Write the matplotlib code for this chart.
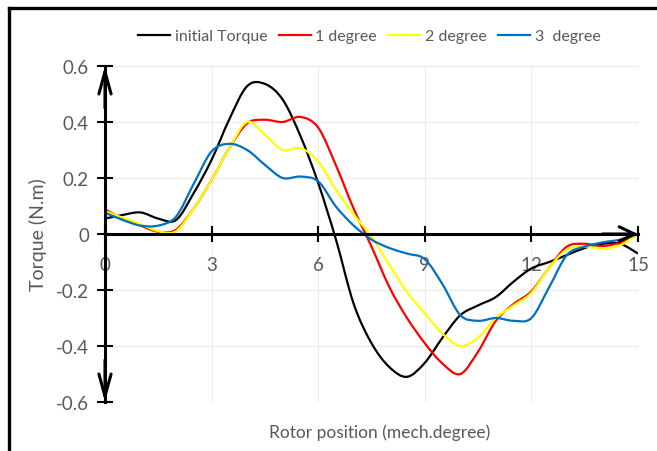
import numpy as np
import matplotlib
matplotlib.use("Agg")
import matplotlib.pyplot as plt
from matplotlib.path import Path
from matplotlib.patches import PathPatch
from matplotlib.lines import Line2D

plt.rcParams['font.family'] = ['Lato', 'DejaVu Sans']

# rotor position (mech. degree)
pos = np.arange(0, 15.01, 0.5)

torque_initial = [0.055, 0.068, 0.077, 0.055, 0.05, 0.147, 0.265, 0.41, 0.528, 0.536,
                  0.48, 0.35, 0.182, -0.02, -0.25, -0.39, -0.475, -0.51, -0.46, -0.37,
                  -0.29, -0.255, -0.225, -0.17, -0.123, -0.10, -0.075, -0.05, -0.035, -0.035,
                  -0.07]
torque_1deg = [0.088, 0.055, 0.03, 0.008, 0.015, 0.092, 0.193, 0.307, 0.395, 0.408,
               0.40, 0.418, 0.38, 0.245, 0.09, -0.045, -0.189, -0.30, -0.39, -0.463,
               -0.50, -0.42, -0.31, -0.25, -0.205, -0.12, -0.045, -0.035, -0.043, -0.03,
               0.0]
torque_2deg = [0.082, 0.058, 0.035, 0.01, 0.01, 0.092, 0.193, 0.307, 0.40, 0.354,
               0.30, 0.307, 0.259, 0.158, 0.07, -0.01, -0.11, -0.207, -0.284, -0.356,
               -0.40, -0.37, -0.30, -0.255, -0.21, -0.12, -0.055, -0.045, -0.052, -0.04,
               0.0]
torque_3deg = [0.076, 0.05, 0.03, 0.03, 0.062, 0.18, 0.295, 0.322, 0.30, 0.247,
               0.20, 0.205, 0.188, 0.098, 0.03, -0.02, -0.05, -0.07, -0.09, -0.18,
               -0.29, -0.31, -0.30, -0.31, -0.30, -0.19, -0.075, -0.045, -0.03, -0.02,
               0.0]

series = [
    ('initial Torque', torque_initial, 'black'),
    ('1 degree', torque_1deg, '#ff0000'),
    ('2 degree', torque_2deg, '#ffff00'),
    ('3  degree', torque_3deg, '#0070c0'),
]

x_ticks = [0, 3, 6, 9, 12, 15]
y_ticks = [-0.6, -0.4, -0.2, 0, 0.2, 0.4, 0.6]
y_ticklabels = ['-0.6', '-0.4', '-0.2', '0', '0.2', '0.4', '0.6']

gray = '#595959'


def smooth_path(x, y):
    # Excel-like smoothed line: bezier segments through the points
    p = np.column_stack([x, y])
    n = len(p)
    verts = [p[0]]
    codes = [Path.MOVETO]
    for i in range(n - 1):
        p0 = p[i - 1] if i > 0 else p[i]
        p1 = p[i]
        p2 = p[i + 1]
        p3 = p[i + 2] if i + 2 < n else p[i + 1]
        c1 = p1 + (p2 - p0) / 6.0
        c2 = p2 - (p3 - p1) / 6.0
        verts += [c1, c2, p2]
        codes += [Path.CURVE4] * 3
    return Path(verts, codes)


fig = plt.figure(figsize=(6.57, 4.52), dpi=100)
ax = fig.add_axes([0.1598, 0.1084, 0.9711 - 0.1598, 0.8518 - 0.1084])

for name, vals, col in series:
    ax.add_patch(PathPatch(smooth_path(pos, np.array(vals)), fill=False,
                           edgecolor=col, lw=1.6, zorder=3))

ax.set_xlim(0, 15)
ax.set_ylim(-0.6, 0.6)
ax.set_xticks(x_ticks)
ax.set_yticks(y_ticks)
ax.set_yticklabels(y_ticklabels)
ax.grid(True, color='#ebebeb', lw=0.8)
ax.set_axisbelow(True)

for s in ['top', 'right']:
    ax.spines[s].set_visible(False)
ax.spines['left'].set_position(('data', 0))
ax.spines['bottom'].set_position(('data', 0))
ax.spines['left'].set_linewidth(2.2)
ax.spines['bottom'].set_linewidth(2.2)
ax.spines['left'].set_zorder(4)
ax.spines['bottom'].set_zorder(4)

ax.tick_params(axis='both', direction='inout', length=11, width=1.5,
               labelsize=13.5, labelcolor=gray, color='black')
ax.tick_params(axis='x', pad=10)
ax.tick_params(axis='y', pad=6)

# arrow heads on the axes
yarrow = dict(arrowstyle='->, head_length=0.8, head_width=0.22', lw=2.2,
              color='black', mutation_scale=20, shrinkA=0, shrinkB=0)
xarrow = dict(arrowstyle='->, head_length=0.55, head_width=0.26', lw=2.2,
              color='black', mutation_scale=20, shrinkA=0, shrinkB=0)
ax.annotate('', xy=(0, 0.6), xytext=(0, 0.45), arrowprops=yarrow, annotation_clip=False)
ax.annotate('', xy=(0, -0.6), xytext=(0, -0.45), arrowprops=yarrow, annotation_clip=False)
ax.annotate('', xy=(15, 0), xytext=(14, 0), arrowprops=xarrow, annotation_clip=False)

ax.set_ylabel('Torque (N.m)', fontsize=14, color=gray)
ax.yaxis.set_label_coords(-0.108, 0.5)
ax.set_xlabel('Rotor position (mech.degree)', fontsize=12.5, color=gray)
ax.xaxis.set_label_coords(0.516, -0.065)

handles = [Line2D([], [], color=c, lw=1.6) for _, _, c in series]
fig.legend(handles, [n for n, _, _ in series], loc='center', ncol=4,
           bbox_to_anchor=(0.562, 0.918), frameon=False, fontsize=11.5,
           labelcolor=gray, handlelength=2.0, handletextpad=0.3, columnspacing=0.7)

# chart border (left and top edges visible in the crop)
fig.add_artist(Line2D([0.0137, 0.0137], [0.0, 0.98], transform=fig.transFigure,
                      color='black', lw=2.4))
fig.add_artist(Line2D([0.0137, 1.0], [0.98, 0.98], transform=fig.transFigure,
                      color='black', lw=2.4))

fig.savefig('out.png', dpi=100)
